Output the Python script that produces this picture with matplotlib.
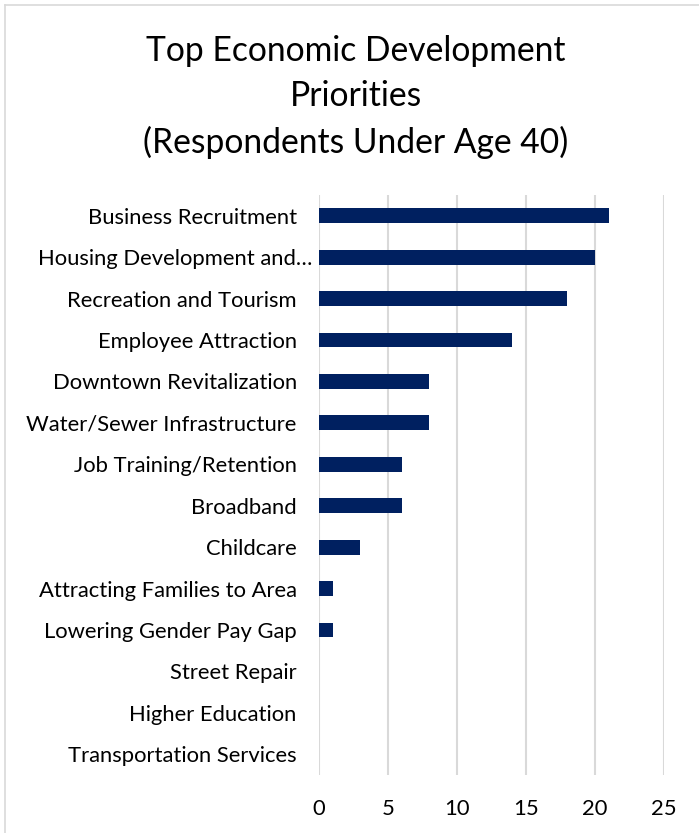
import matplotlib
matplotlib.use("Agg")
import matplotlib.pyplot as plt
from matplotlib.lines import Line2D
from matplotlib.transforms import ScaledTranslation

categories = [
    "Business Recruitment",
    "Housing Development and…",
    "Recreation and Tourism",
    "Employee Attraction",
    "Downtown Revitalization",
    "Water/Sewer Infrastructure",
    "Job Training/Retention",
    "Broadband",
    "Childcare",
    "Attracting Families to Area",
    "Lowering Gender Pay Gap",
    "Street Repair",
    "Higher Education",
    "Transportation Services",
]
counts = [21, 20, 18, 14, 8, 8, 6, 6, 3, 1, 1, 0, 0, 0]
xticks = [0, 5, 10, 15, 20, 25]

plt.rcParams["font.family"] = ["Lato", "DejaVu Sans"]

fig = plt.figure(figsize=(6.99, 8.33), dpi=100)
ax = fig.add_axes([319 / 699, 1 - 775 / 833, 345 / 699, 580 / 833])

y = list(range(len(categories)))
ax.barh(y, counts, height=0.36, color="#002060", zorder=3)
ax.set_ylim(len(categories) - 0.5, -0.5)
ax.set_xlim(0, 25)
ax.set_yticks(y)
ax.set_yticklabels(categories, fontsize=15.8, color="#000000")
ax.set_xticks(xticks)
ax.set_xticklabels([str(t) for t in xticks], fontsize=15.8)
ax.tick_params(axis="y", length=0, pad=16)
ax.tick_params(axis="x", length=0, pad=17)
ax.grid(axis="x", color="#d9d9d9", linewidth=1.5, zorder=0)
for s in ax.spines.values():
    s.set_visible(False)

# the truncated label sits closer to the axis
lbl = ax.get_yticklabels()[1]
lbl.set_transform(lbl.get_transform() + ScaledTranslation(16 / 100, 0, fig.dpi_scale_trans))

fig.text(356 / 699, 1 - 97 / 833,
         "Top Economic Development\nPriorities\n(Respondents Under Age 40)",
         ha="center", va="center", fontsize=24.2, linespacing=1.5)

# chart frame, only top and left edges are inside the canvas
fig.add_artist(Line2D([5 / 699, 5 / 699], [0, 1 - 5 / 833], transform=fig.transFigure,
                      color="#d9d9d9", linewidth=1.2))
fig.add_artist(Line2D([5 / 699, 1], [1 - 5 / 833, 1 - 5 / 833], transform=fig.transFigure,
                      color="#d9d9d9", linewidth=1.2))

fig.savefig("out.png", dpi=100)
